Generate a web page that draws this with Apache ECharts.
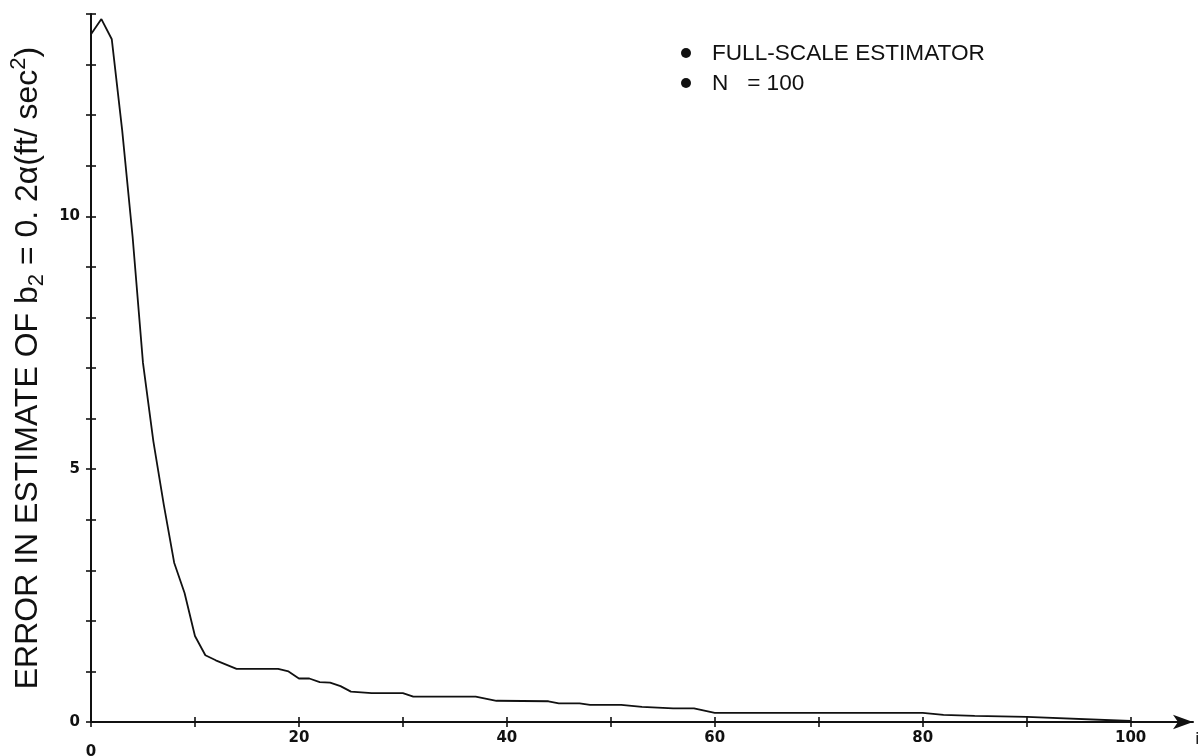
<!DOCTYPE html>
<html>
<head>
<meta charset="utf-8">
<script src="https://cdn.jsdelivr.net/npm/echarts@6/dist/echarts.min.js"></script>
<style>
  html, body { margin: 0; padding: 0; background: #fff; }
  #chart { width: 1198px; height: 756px; }
</style>
</head>
<body>
<div id="chart"></div>
<script>
// Sample index i (breakpoints of the plotted curve)
const iVals = [0, 1, 2, 3, 4, 5, 6, 7, 8, 9, 10, 11, 12, 14, 18, 19, 20, 21, 22, 23, 24, 25, 27, 30, 31, 37, 39, 44, 45, 47, 48, 51, 53, 56, 58, 60, 80, 82, 85, 90, 100];
// Error in the estimate of b2 at each index
const errVals = [13.6, 13.9, 13.5, 11.7, 9.6, 7.1, 5.55, 4.3, 3.15, 2.55, 1.7, 1.32, 1.22, 1.05, 1.05, 1.0, 0.86, 0.86, 0.79, 0.78, 0.71, 0.6, 0.57, 0.57, 0.5, 0.5, 0.42, 0.41, 0.37, 0.37, 0.34, 0.34, 0.3, 0.27, 0.27, 0.18, 0.18, 0.14, 0.12, 0.1, 0.02];

const xTickVals = [0, 10, 20, 30, 40, 50, 60, 70, 80, 90, 100];
const xLabelVals = [0, 20, 40, 60, 80, 100];
const yTickVals = [0, 1, 2, 3, 4, 5, 6, 7, 8, 9, 10, 11, 12, 13, 14];
const yLabelVals = [0, 5, 10];

const notes = ['FULL-SCALE ESTIMATOR', 'N   = 100'];

const INK = '#111';
const textFont = "'Liberation Sans', Arial, sans-serif";
const tickFont = "'DejaVu Sans', sans-serif";

const chart = echarts.init(document.getElementById('chart'), null, { renderer: 'canvas' });

const baseX = {
  type: 'value', min: 0, max: 106, gridIndex: 0,
  splitLine: { show: false }
};
const baseY = {
  type: 'value', min: 0, max: 14, gridIndex: 0,
  splitLine: { show: false }
};

// Annotation block in the upper right
const graphics = [];
notes.forEach((t, k) => {
  const cy = 53 + k * 30;
  graphics.push({
    type: 'circle', shape: { cx: 686, cy: cy, r: 5 },
    style: { fill: INK }
  });
  graphics.push({
    type: 'text', x: 712, y: cy + 1,
    style: { text: t, fill: INK, font: '22.6px ' + textFont, textVerticalAlign: 'middle', textAlign: 'left' }
  });
});

chart.setOption({
  animation: false,
  backgroundColor: '#fff',
  grid: { left: 91, right: 5, top: 14, bottom: 34, containLabel: false, outerBoundsMode: 'none' },
  xAxis: [
    Object.assign({}, baseX, {
      position: 'bottom',
      name: 'i', nameLocation: 'end', nameGap: 2,
      nameTextStyle: { color: INK, fontSize: 16, fontFamily: tickFont, verticalAlign: 'top', padding: [10, 0, 0, 0] },
      axisLine: { show: true, lineStyle: { color: INK, width: 2 }, symbol: ['none', 'arrow'], symbolSize: [11, 20] },
      axisTick: { show: true, inside: false, length: 5, lineStyle: { color: INK, width: 1.6 }, customValues: xTickVals },
      axisLabel: {
        show: true, margin: 9, customValues: xLabelVals,
        color: INK, fontSize: 15, fontWeight: 'bold', fontFamily: tickFont,
        formatter: v => v === 0 ? '{o|0}' : String(v),
        rich: { o: { padding: [14, 0, 0, 0], color: INK, fontSize: 15, fontWeight: 'bold', fontFamily: tickFont } }
      }
    }),
    Object.assign({}, baseX, {
      position: 'bottom',
      axisLine: { show: false },
      axisTick: { show: true, inside: true, length: 5, lineStyle: { color: INK, width: 1.6 }, customValues: xTickVals },
      axisLabel: { show: false }
    })
  ],
  yAxis: [
    Object.assign({}, baseY, {
      position: 'left',
      name: '{n|ERROR IN ESTIMATE OF b}{sub|2}{n| = 0. 2α(ft/ sec}{sup|2}{n|)}',
      nameLocation: 'middle', nameRotate: 90, nameGap: 33,
      nameTextStyle: {
        color: INK,
        rich: {
          n: { fontSize: 32, fontFamily: textFont, color: INK, lineHeight: 36 },
          sub: { fontSize: 22, fontFamily: textFont, color: INK, lineHeight: 22, padding: [18, 0, 0, 0] },
          sup: { fontSize: 22, fontFamily: textFont, color: INK, lineHeight: 22, padding: [0, 0, 18, 0] }
        }
      },
      axisLine: { show: true, lineStyle: { color: INK, width: 2 } },
      axisTick: { show: true, inside: false, length: 5, lineStyle: { color: INK, width: 1.6 }, customValues: yTickVals },
      axisLabel: {
        show: true, margin: 11, customValues: yLabelVals,
        color: INK, fontSize: 15, fontWeight: 'bold', fontFamily: tickFont
      }
    }),
    Object.assign({}, baseY, {
      position: 'left',
      axisLine: { show: false },
      axisTick: { show: true, inside: true, length: 5, lineStyle: { color: INK, width: 1.6 }, customValues: yTickVals },
      axisLabel: { show: false }
    })
  ],
  series: [{
    type: 'line',
    xAxisIndex: 0, yAxisIndex: 0,
    data: iVals.map((x, k) => [x, errVals[k]]),
    showSymbol: false,
    smooth: false,
    lineStyle: { color: INK, width: 1.8 },
    z: 3
  }],
  graphic: graphics
});
</script>
</body>
</html>
